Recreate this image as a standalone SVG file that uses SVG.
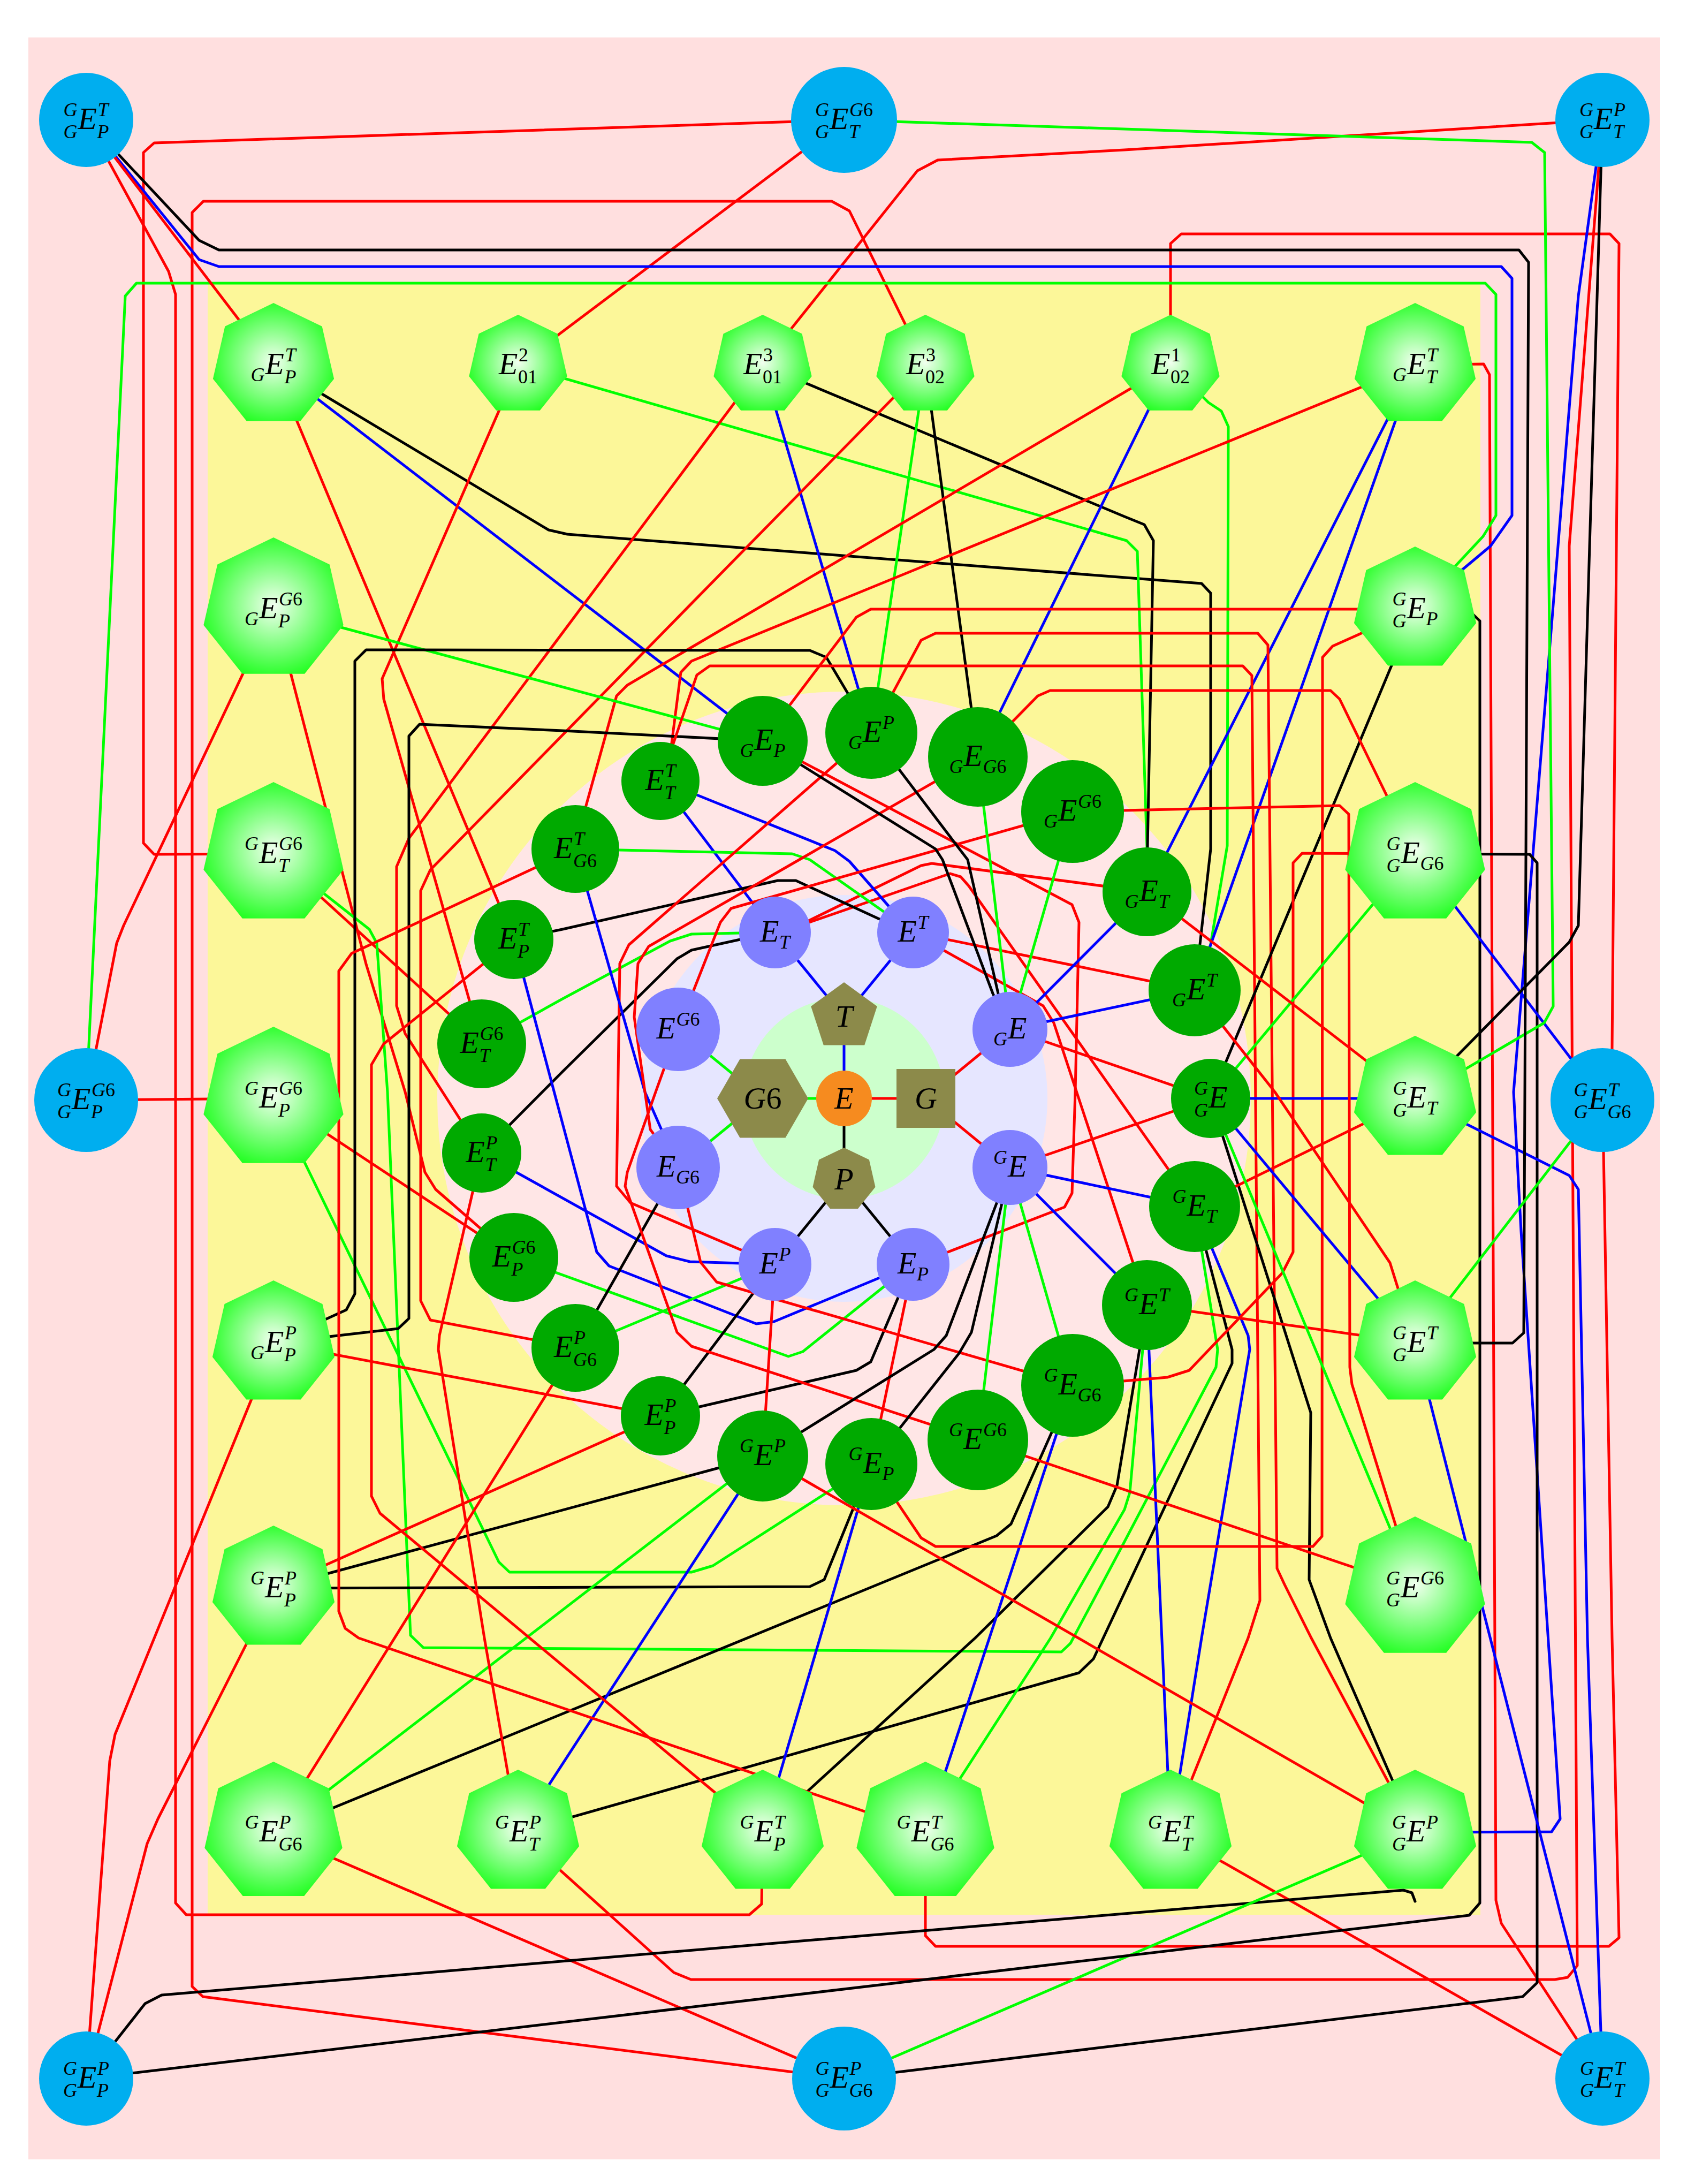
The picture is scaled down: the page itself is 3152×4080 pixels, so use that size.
<svg xmlns="http://www.w3.org/2000/svg" width="3152" height="4080" viewBox="0 0 3152 4080">
<defs>
<style>
.m{font-family:"Liberation Serif","DejaVu Serif",serif;font-style:italic;font-size:58px;fill:#000}
.s{font-family:"Liberation Serif","DejaVu Serif",serif;font-style:italic;font-size:36px;fill:#000}
.u{font-style:normal}
.e{text-anchor:end}
.c{text-anchor:middle}
.ln{fill:none;stroke-width:5;stroke-linejoin:round;stroke-linecap:round}
.r{stroke:#FF0000}.g{stroke:#00FF00}.b{stroke:#0000FF}.k{stroke:#000000}
.cy{fill:#00AEEF}.dg{fill:#00AA00}.lv{fill:#8080FF}.ol{fill:#8C8A4A}
</style>
<radialGradient id="hg" cx="0.5" cy="0.5" r="0.55"><stop offset="0" stop-color="#F2FFF0"/><stop offset="1" stop-color="#1EFF1E"/></radialGradient>
<polygon id="hep" points="0,-100 78.18,-62.35 97.49,22.25 43.39,90.1 -43.39,90.1 -97.49,22.25 -78.18,-62.35" fill="url(#hg)"/>
</defs>
<rect width="3152" height="4080" fill="#FFFFFF"/>
<rect x="53" y="70" width="3049" height="3964" fill="#FFDFDF"/>
<rect x="388" y="529" width="2378" height="3048" fill="#FCF799"/>
<circle cx="1577" cy="2052" r="760" fill="#FFE6E6"/>
<circle cx="1577" cy="2052" r="380" fill="#E6E6FF"/>
<circle cx="1577" cy="2052" r="188" fill="#CCFFCC"/>
<g id="connectors">
<line class="ln b" x1="1577" y1="2052" x2="1577" y2="1900"/>
<line class="ln r" x1="1577" y1="2052" x2="1730" y2="2052"/>
<line class="ln k" x1="1577" y1="2052" x2="1577" y2="2204"/>
<line class="ln g" x1="1577" y1="2052" x2="1425" y2="2052"/>
<line class="ln b" x1="1577" y1="1900" x2="1448" y2="1742"/>
<line class="ln b" x1="1577" y1="1900" x2="1706" y2="1742"/>
<line class="ln r" x1="1730" y1="2052" x2="1887" y2="1923"/>
<line class="ln r" x1="1730" y1="2052" x2="1887" y2="2181"/>
<line class="ln k" x1="1577" y1="2204" x2="1448" y2="2362"/>
<line class="ln k" x1="1577" y1="2204" x2="1706" y2="2362"/>
<line class="ln g" x1="1425" y1="2052" x2="1267" y2="1923"/>
<line class="ln g" x1="1425" y1="2052" x2="1267" y2="2181"/>
<line class="ln b" x1="1448" y1="1742" x2="1234" y2="1459"/>
<polyline class="ln k" points="1448,1742 1383,1755 1292,1775 1265,1791 1051,2002 900,2154"/>
<polyline class="ln g" points="1448,1742 1383,1743 1292,1745 1252,1758 1051,1866 900,1950"/>
<polyline class="ln r" points="1448,1742 1513,1719 1721,1617 1741,1613 2143,1666"/>
<polyline class="ln r" points="1448,1742 1515,1722 1775,1632 1795,1638 1810,1655 2232,2254"/>
<polyline class="ln b" points="1234,1459 1302,1485 1560,1589 1587,1609 1658,1690 1706,1742"/>
<polyline class="ln k" points="1706,1742 1641,1716 1487,1645 1453,1645 1051,1736 960,1755"/>
<polyline class="ln g" points="1075,1586 1158,1588 1480,1595 1513,1606 1651,1703 1706,1742"/>
<line class="ln r" x1="1706" y1="1742" x2="2232" y2="1850"/>
<polyline class="ln r" points="1706,1742 1768,1778 1949,1879 1969,1911 2143,2438"/>
<polyline class="ln b" points="1706,2362 1641,2388 1446,2469 1413,2473 1138,2365 1115,2339 979,1828 960,1755"/>
<polyline class="ln k" points="1706,2362 1678,2424 1627,2544 1600,2560 1234,2645"/>
<polyline class="ln g" points="1706,2362 1651,2404 1500,2525 1473,2534 960,2349"/>
<line class="ln r" x1="1706" y1="2362" x2="1628" y2="2735"/>
<polyline class="ln r" points="1706,2362 1771,2339 1989,2255 2003,2229 2009,2040 2016,1723 2003,1690 1425,1384"/>
<polyline class="ln b" points="1448,2362 1289,2357 1245,2346 900,2154"/>
<line class="ln k" x1="1448" y1="2362" x2="1234" y2="2645"/>
<line class="ln g" x1="1448" y1="2362" x2="1075" y2="2518"/>
<line class="ln r" x1="1448" y1="2362" x2="1425" y2="2720"/>
<polyline class="ln r" points="1448,2362 1178,2247 1152,2216 1158,1800 1175,1765 1628,1369"/>
<polyline class="ln b" points="1267,2181 1205,2040 1075,1586"/>
<line class="ln k" x1="1267" y1="2181" x2="1075" y2="2518"/>
<polyline class="ln r" points="1267,2181 1309,2358 1339,2395 2004,2588"/>
<polyline class="ln r" points="1827,1414 1212,1768 1192,1800 1185,1900 1215,2110 1267,2181"/>
<polyline class="ln r" points="1267,1923 1296,1850 1346,1723 1366,1697 2004,1516"/>
<polyline class="ln r" points="1267,1923 1225,2040 1172,2190 1168,2216 1265,2489 1292,2515 1827,2690"/>
<line class="ln b" x1="1887" y1="1923" x2="2232" y2="1850"/>
<line class="ln b" x1="1887" y1="1923" x2="2143" y2="1666"/>
<polyline class="ln k" points="1887,1923 1865,1856 1808,1606 1788,1580 1628,1369"/>
<polyline class="ln k" points="1887,1923 1855,1856 1761,1606 1748,1586 1425,1384"/>
<line class="ln g" x1="1887" y1="1923" x2="2004" y2="1516"/>
<line class="ln g" x1="1887" y1="1923" x2="1827" y2="1414"/>
<line class="ln r" x1="1887" y1="1923" x2="2262" y2="2052"/>
<line class="ln b" x1="1887" y1="2181" x2="2143" y2="2438"/>
<line class="ln b" x1="1887" y1="2181" x2="2232" y2="2254"/>
<polyline class="ln k" points="1887,2181 1862,2248 1768,2495 1745,2521 1425,2720"/>
<polyline class="ln k" points="1887,2181 1872,2248 1815,2489 1792,2528 1628,2735"/>
<line class="ln g" x1="1887" y1="2181" x2="1827" y2="2690"/>
<line class="ln g" x1="1887" y1="2181" x2="2004" y2="2588"/>
<line class="ln r" x1="1887" y1="2181" x2="2262" y2="2052"/>
<line class="ln r" x1="511" y1="682" x2="960" y2="1755"/>
<line class="ln b" x1="511" y1="682" x2="1425" y2="1384"/>
<polyline class="ln k" points="511,682 600,735 1025,990 1060,998 2245,1090 2262,1108 2262,1586 2242,1764 2232,1850"/>
<polyline class="ln r" points="968,682 932,768 714,1268 717,1306 900,1950"/>
<line class="ln r" x1="968" y1="682" x2="1577" y2="224"/>
<polyline class="ln g" points="968,682 2105,1010 2125,1030 2143,1583 2143,1666"/>
<line class="ln b" x1="1425" y1="682" x2="1628" y2="1369"/>
<polyline class="ln k" points="1425,682 2101,965 2138,980 2155,1010 2144,1583 2143,1666"/>
<polyline class="ln r" points="1425,682 764,1566 741,1619 741,1879 757,1931 900,2154"/>
<polyline class="ln r" points="1425,682 1480,612 1714,319 1752,299 2101,280 2994,224"/>
<line class="ln g" x1="1729" y1="682" x2="1628" y2="1369"/>
<line class="ln k" x1="1729" y1="682" x2="1827" y2="1414"/>
<polyline class="ln r" points="1729,682 804,1625 786,1664 786,2430 804,2466 1075,2518"/>
<polyline class="ln r" points="1729,682 1587,394 1554,376 380,376 359,397 359,3711 379,3730 1577,3883"/>
<line class="ln b" x1="2187" y1="682" x2="1827" y2="1414"/>
<polyline class="ln g" points="2187,682 2258,752 2282,768 2295,797 2293,1580 2262,1764 2232,1850"/>
<polyline class="ln r" points="2187,682 1172,1280 1152,1300 1095,1505 1075,1586"/>
<polyline class="ln r" points="2187,682 2187,455 2207,437 3008,437 3025,455 3012,1960 2994,2055"/>
<polyline class="ln r" points="2644,682 1292,1235 1272,1256 1255,1388 1234,1459"/>
<line class="ln b" x1="2644" y1="682" x2="2143" y2="1666"/>
<line class="ln b" x1="2644" y1="682" x2="2232" y2="1850"/>
<polyline class="ln r" points="2644,682 2772,680 2783,700 2795,3550 2805,3593 2994,3883"/>
<polyline class="ln r" points="511,1138 544,1261 684,1801 757,2040 794,2190 814,2222 960,2349"/>
<line class="ln g" x1="511" y1="1138" x2="1425" y2="1384"/>
<polyline class="ln r" points="511,1138 231,1729 218,1762 161,2055"/>
<polyline class="ln r" points="511,1595 288,1596 268,1575 268,285 288,267 1577,224"/>
<line class="ln r" x1="511" y1="1595" x2="900" y2="1950"/>
<polyline class="ln g" points="511,1595 690,1736 704,1762 724,2040 767,3055 791,3078 1983,3086 2000,3070 2101,2880 2272,2554 2275,2521 2232,2254"/>
<line class="ln r" x1="511" y1="2052" x2="161" y2="2055"/>
<line class="ln r" x1="511" y1="2052" x2="960" y2="2349"/>
<polyline class="ln g" points="511,2052 932,2918 952,2937 1292,2937 1332,2925 1628,2735"/>
<line class="ln r" x1="511" y1="2509" x2="1234" y2="2645"/>
<polyline class="ln k" points="511,2509 647,2447 663,2417 663,1235 684,1214 1513,1215 1544,1228 1628,1369"/>
<polyline class="ln k" points="511,2509 744,2482 764,2463 764,1375 784,1353 1051,1365 1425,1384"/>
<polyline class="ln r" points="511,2509 469,2616 215,3240 205,3290 161,3883"/>
<line class="ln r" x1="511" y1="2967" x2="1234" y2="2645"/>
<line class="ln k" x1="511" y1="2967" x2="1425" y2="2720"/>
<polyline class="ln k" points="511,2967 1513,2964 1540,2951 1628,2735"/>
<polyline class="ln r" points="511,2967 460,3072 295,3398 275,3444 161,3883"/>
<line class="ln r" x1="511" y1="3423" x2="1075" y2="2518"/>
<line class="ln g" x1="511" y1="3423" x2="1425" y2="2720"/>
<polyline class="ln k" points="511,3423 1862,2869 1889,2847 2004,2588"/>
<line class="ln r" x1="511" y1="3423" x2="1577" y2="3883"/>
<polyline class="ln r" points="968,3423 905,3060 819,2521 821,2495 900,2154"/>
<line class="ln b" x1="968" y1="3423" x2="1425" y2="2720"/>
<polyline class="ln k" points="968,3423 2016,3125 2043,3099 2302,2547 2302,2521 2232,2254"/>
<polyline class="ln r" points="968,3423 1259,3685 1291,3698 2905,3698 2929,3694 2947,3672 2932,1020 2994,224"/>
<polyline class="ln r" points="1425,3423 710,2827 694,2795 694,1989 717,1950 960,1755"/>
<line class="ln b" x1="1425" y1="3423" x2="1628" y2="2735"/>
<polyline class="ln k" points="1425,3423 1822,3060 2070,2815 2087,2775 2143,2438"/>
<polyline class="ln r" points="1425,3423 1423,3557 1400,3577 348,3577 328,3555 328,550 315,507 161,224"/>
<polyline class="ln r" points="1729,3423 670,3060 645,3042 633,3010 633,1814 657,1781 1075,1586"/>
<polyline class="ln g" points="1729,3423 1963,3060 2101,2820 2111,2788 2135,2521 2143,2438"/>
<line class="ln b" x1="1729" y1="3423" x2="2004" y2="2588"/>
<polyline class="ln r" points="1729,3423 1729,3616 1748,3636 3006,3636 3025,3620 3012,3060 2996,2150 2994,2055"/>
<polyline class="ln r" points="2187,3423 2332,3060 2354,2990 2339,1262 2322,1244 1326,1244 1302,1261 1234,1459"/>
<line class="ln b" x1="2187" y1="3423" x2="2143" y2="2438"/>
<polyline class="ln b" points="2187,3423 2245,3060 2335,2521 2332,2495 2232,2254"/>
<line class="ln r" x1="2187" y1="3423" x2="2994" y2="3883"/>
<line class="ln r" x1="2644" y1="3423" x2="1425" y2="2720"/>
<polyline class="ln r" points="2644,3423 2450,3060 2400,2960 2386,2930 2369,1205 2350,1183 1748,1183 1721,1196 1628,1369"/>
<polyline class="ln k" points="2644,3423 2486,3060 2446,2951 2449,2639 2262,2052"/>
<polyline class="ln k" points="161,3883 271,3743 302,3727 2622,3531 2638,3536 2644,3552"/>
<line class="ln g" x1="2644" y1="3423" x2="1577" y2="3883"/>
<polyline class="ln b" points="2644,3423 2899,3422 2915,3398 2842,2300 2828,2040 2949,553 2994,224"/>
<line class="ln k" x1="2644" y1="1138" x2="2262" y2="2052"/>
<polyline class="ln r" points="2644,1138 1627,1138 1600,1153 1425,1384"/>
<polyline class="ln r" points="2644,1138 2490,1207 2471,1228 2470,2870 2453,2889 1748,2889 1721,2873 1628,2735"/>
<polyline class="ln b" points="2644,1138 2785,1020 2825,963 2825,520 2805,498 409,498 372,485 161,224"/>
<polyline class="ln g" points="2644,1138 2771,1002 2795,963 2795,550 2775,529 255,529 234,553 161,2055"/>
<polyline class="ln k" points="2644,1138 2745,1141 2765,1160 2765,3555 2745,3578 161,3883"/>
<polyline class="ln r" points="2644,1595 2503,1306 2486,1290 1962,1290 1939,1300 1827,1414"/>
<polyline class="ln r" points="2644,1595 2433,1594 2416,1612 2416,2339 2396,2378 2222,2560 2181,2573 2004,2588"/>
<line class="ln g" x1="2644" y1="1595" x2="2262" y2="2052"/>
<polyline class="ln k" points="2644,1595 2858,1596 2872,1612 2872,3704 2845,3730 1577,3883"/>
<line class="ln b" x1="2644" y1="1595" x2="2994" y2="2055"/>
<line class="ln r" x1="2644" y1="2052" x2="2143" y2="1666"/>
<line class="ln r" x1="2644" y1="2052" x2="2232" y2="2254"/>
<line class="ln b" x1="2644" y1="2052" x2="2262" y2="2052"/>
<polyline class="ln g" points="2644,2052 2885,1911 2902,1880 2886,285 2862,266 1577,224"/>
<polyline class="ln k" points="2644,2052 2932,1760 2949,1729 2970,1020 2994,224"/>
<polyline class="ln b" points="2644,2052 2932,2196 2949,2222 2966,3060 2994,3883"/>
<line class="ln r" x1="2644" y1="2509" x2="2143" y2="2438"/>
<line class="ln b" x1="2644" y1="2509" x2="2262" y2="2052"/>
<polyline class="ln r" points="2644,2509 2597,2359 2382,2040 2232,1850"/>
<polyline class="ln k" points="2644,2509 2826,2509 2847,2490 2856,490 2838,467 409,467 372,449 161,224"/>
<line class="ln b" x1="2644" y1="2509" x2="2994" y2="3883"/>
<line class="ln g" x1="2644" y1="2509" x2="2994" y2="2055"/>
<polyline class="ln r" points="2644,2967 2526,2586 2522,2554 2520,1521 2503,1505 2004,1516"/>
<line class="ln r" x1="2644" y1="2967" x2="1827" y2="2690"/>
<line class="ln g" x1="2644" y1="2967" x2="2262" y2="2052"/>
<line class="ln r" x1="161" y1="224" x2="511" y2="682"/>
</g>
<g id="nodes">
<g id="C1"><circle class="cy" cx="161" cy="224" r="88"/><g transform="translate(161,224)"><text class="m" x="-15.5" y="17">E</text><text class="s e" x="-16.5" y="-7">G</text><text class="s e" x="-16.5" y="34">G</text><text class="s" x="21.5" y="-7">T</text><text class="s" x="20.5" y="34">P</text></g></g>
<g id="C2"><circle class="cy" cx="1577" cy="224" r="99"/><g transform="translate(1577,224)"><text class="m" x="-27" y="17">E</text><text class="s e" x="-28" y="-7">G</text><text class="s e" x="-28" y="34">G</text><text class="s" x="10" y="-7">G<tspan class="u">6</tspan></text><text class="s" x="9" y="34">T</text></g></g>
<g id="C3"><circle class="cy" cx="2994" cy="224" r="88"/><g transform="translate(2994,224)"><text class="m" x="-16" y="17">E</text><text class="s e" x="-17" y="-7">G</text><text class="s e" x="-17" y="34">G</text><text class="s" x="21" y="-7">P</text><text class="s" x="20" y="34">T</text></g></g>
<g id="C4"><circle class="cy" cx="161" cy="2055" r="97"/><g transform="translate(161,2055)"><text class="m" x="-27" y="17">E</text><text class="s e" x="-28" y="-7">G</text><text class="s e" x="-28" y="34">G</text><text class="s" x="10" y="-7">G<tspan class="u">6</tspan></text><text class="s" x="9" y="34">P</text></g></g>
<g id="C5"><circle class="cy" cx="2994" cy="2055" r="97"/><g transform="translate(2994,2055)"><text class="m" x="-26.5" y="17">E</text><text class="s e" x="-27.5" y="-7">G</text><text class="s e" x="-27.5" y="34">G</text><text class="s" x="10.5" y="-7">T</text><text class="s" x="9.5" y="34">G<tspan class="u">6</tspan></text></g></g>
<g id="C6"><circle class="cy" cx="161" cy="3883" r="88"/><g transform="translate(161,3883)"><text class="m" x="-16" y="17">E</text><text class="s e" x="-17" y="-7">G</text><text class="s e" x="-17" y="34">G</text><text class="s" x="21" y="-7">P</text><text class="s" x="20" y="34">P</text></g></g>
<g id="C7"><circle class="cy" cx="1577" cy="3883" r="97"/><g transform="translate(1577,3883)"><text class="m" x="-26.5" y="17">E</text><text class="s e" x="-27.5" y="-7">G</text><text class="s e" x="-27.5" y="34">G</text><text class="s" x="10.5" y="-7">P</text><text class="s" x="9.5" y="34">G<tspan class="u">6</tspan></text></g></g>
<g id="C8"><circle class="cy" cx="2994" cy="3883" r="88"/><g transform="translate(2994,3883)"><text class="m" x="-15" y="17">E</text><text class="s e" x="-16" y="-7">G</text><text class="s e" x="-16" y="34">G</text><text class="s" x="22" y="-7">T</text><text class="s" x="21" y="34">T</text></g></g>

<g id="Ha"><use href="#hep" transform="translate(511,682) scale(1.16)"/><g transform="translate(511,682)"><text class="m" x="-15.5" y="17">E</text><text class="s e" x="-16.5" y="30">G</text><text class="s" x="21.5" y="-7">T</text><text class="s" x="20.5" y="34">P</text></g></g>
<g id="Hb"><use href="#hep" transform="translate(968,682) scale(0.94)"/><g transform="translate(968,682)"><text class="m" x="-36" y="17">E</text><text class="s u" x="1" y="-7">2</text><text class="s u" x="0" y="34">01</text></g></g>
<g id="Hc"><use href="#hep" transform="translate(1425,682) scale(0.94)"/><g transform="translate(1425,682)"><text class="m" x="-36" y="17">E</text><text class="s u" x="1" y="-7">3</text><text class="s u" x="0" y="34">01</text></g></g>
<g id="Hd"><use href="#hep" transform="translate(1729,682) scale(0.94)"/><g transform="translate(1729,682)"><text class="m" x="-36" y="17">E</text><text class="s u" x="1" y="-7">3</text><text class="s u" x="0" y="34">02</text></g></g>
<g id="He"><use href="#hep" transform="translate(2187,682) scale(0.94)"/><g transform="translate(2187,682)"><text class="m" x="-36" y="17">E</text><text class="s u" x="1" y="-7">1</text><text class="s u" x="0" y="34">02</text></g></g>
<g id="Hf"><use href="#hep" transform="translate(2644,682) scale(1.16)"/><g transform="translate(2644,682)"><text class="m" x="-15" y="17">E</text><text class="s e" x="-16" y="30">G</text><text class="s" x="22" y="-7">T</text><text class="s" x="21" y="34">T</text></g></g>
<g id="Hg"><use href="#hep" transform="translate(511,1138) scale(1.34)"/><g transform="translate(511,1138)"><text class="m" x="-27" y="17">E</text><text class="s e" x="-28" y="30">G</text><text class="s" x="10" y="-7">G<tspan class="u">6</tspan></text><text class="s" x="9" y="34">P</text></g></g>
<g id="Hh"><use href="#hep" transform="translate(511,1595) scale(1.34)"/><g transform="translate(511,1595)"><text class="m" x="-27" y="17">E</text><text class="s e" x="-28" y="-7">G</text><text class="s" x="10" y="-7">G<tspan class="u">6</tspan></text><text class="s" x="9" y="34">T</text></g></g>
<g id="Hi"><use href="#hep" transform="translate(511,2052) scale(1.34)"/><g transform="translate(511,2052)"><text class="m" x="-27" y="17">E</text><text class="s e" x="-28" y="-7">G</text><text class="s" x="10" y="-7">G<tspan class="u">6</tspan></text><text class="s" x="9" y="34">P</text></g></g>
<g id="Hj"><use href="#hep" transform="translate(511,2509) scale(1.17)"/><g transform="translate(511,2509)"><text class="m" x="-16" y="17">E</text><text class="s e" x="-17" y="30">G</text><text class="s" x="21" y="-7">P</text><text class="s" x="20" y="34">P</text></g></g>
<g id="Hk"><use href="#hep" transform="translate(511,2967) scale(1.17)"/><g transform="translate(511,2967)"><text class="m" x="-16" y="17">E</text><text class="s e" x="-17" y="-7">G</text><text class="s" x="21" y="-7">P</text><text class="s" x="20" y="34">P</text></g></g>
<g id="Hl"><use href="#hep" transform="translate(511,3423) scale(1.32)"/><g transform="translate(511,3423)"><text class="m" x="-26.5" y="17">E</text><text class="s e" x="-27.5" y="-7">G</text><text class="s" x="10.5" y="-7">P</text><text class="s" x="9.5" y="34">G<tspan class="u">6</tspan></text></g></g>
<g id="Hm"><use href="#hep" transform="translate(968,3423) scale(1.17)"/><g transform="translate(968,3423)"><text class="m" x="-16" y="17">E</text><text class="s e" x="-17" y="-7">G</text><text class="s" x="21" y="-7">P</text><text class="s" x="20" y="34">T</text></g></g>
<g id="Hn"><use href="#hep" transform="translate(1425,3423) scale(1.17)"/><g transform="translate(1425,3423)"><text class="m" x="-15.5" y="17">E</text><text class="s e" x="-16.5" y="-7">G</text><text class="s" x="21.5" y="-7">T</text><text class="s" x="20.5" y="34">P</text></g></g>
<g id="Ho"><use href="#hep" transform="translate(1729,3423) scale(1.32)"/><g transform="translate(1729,3423)"><text class="m" x="-26.5" y="17">E</text><text class="s e" x="-27.5" y="-7">G</text><text class="s" x="10.5" y="-7">T</text><text class="s" x="9.5" y="34">G<tspan class="u">6</tspan></text></g></g>
<g id="Hp"><use href="#hep" transform="translate(2187,3423) scale(1.17)"/><g transform="translate(2187,3423)"><text class="m" x="-15" y="17">E</text><text class="s e" x="-16" y="-7">G</text><text class="s" x="22" y="-7">T</text><text class="s" x="21" y="34">T</text></g></g>
<g id="Hq"><use href="#hep" transform="translate(2644,3423) scale(1.17)"/><g transform="translate(2644,3423)"><text class="m" x="-16" y="17">E</text><text class="s e" x="-17" y="-7">G</text><text class="s e" x="-17" y="34">G</text><text class="s" x="21" y="-7">P</text></g></g>
<g id="Hr"><use href="#hep" transform="translate(2644,1138) scale(1.17)"/><g transform="translate(2644,1138)"><text class="m" x="-15.5" y="17">E</text><text class="s e" x="-16.5" y="-7">G</text><text class="s e" x="-16.5" y="34">G</text><text class="s" x="20.5" y="30">P</text></g></g>
<g id="Hs"><use href="#hep" transform="translate(2644,1595) scale(1.34)"/><g transform="translate(2644,1595)"><text class="m" x="-26.5" y="17">E</text><text class="s e" x="-27.5" y="-7">G</text><text class="s e" x="-27.5" y="34">G</text><text class="s" x="9.5" y="30">G<tspan class="u">6</tspan></text></g></g>
<g id="Ht"><use href="#hep" transform="translate(2644,2052) scale(1.17)"/><g transform="translate(2644,2052)"><text class="m" x="-14.5" y="17">E</text><text class="s e" x="-15.5" y="-7">G</text><text class="s e" x="-15.5" y="34">G</text><text class="s" x="21.5" y="30">T</text></g></g>
<g id="Hu"><use href="#hep" transform="translate(2644,2509) scale(1.17)"/><g transform="translate(2644,2509)"><text class="m" x="-15" y="17">E</text><text class="s e" x="-16" y="-7">G</text><text class="s e" x="-16" y="34">G</text><text class="s" x="22" y="-7">T</text></g></g>
<g id="Hv"><use href="#hep" transform="translate(2644,2967) scale(1.34)"/><g transform="translate(2644,2967)"><text class="m" x="-27" y="17">E</text><text class="s e" x="-28" y="-7">G</text><text class="s e" x="-28" y="34">G</text><text class="s" x="10" y="-7">G<tspan class="u">6</tspan></text></g></g>

<g id="D0"><circle class="dg" cx="2262" cy="2052" r="74"/><g transform="translate(2262,2052)"><text class="m" x="-4" y="17">E</text><text class="s e" x="-5" y="-7">G</text><text class="s e" x="-5" y="34">G</text></g></g>
<g id="D1"><circle class="dg" cx="2232" cy="1850" r="86"/><g transform="translate(2232,1850)"><text class="m" x="-15" y="17">E</text><text class="s e" x="-16" y="30">G</text><text class="s" x="22" y="-7">T</text></g></g>
<g id="D2"><circle class="dg" cx="2143" cy="1666" r="83"/><g transform="translate(2143,1666)"><text class="m" x="-14.5" y="17">E</text><text class="s e" x="-15.5" y="30">G</text><text class="s" x="21.5" y="30">T</text></g></g>
<g id="D3"><circle class="dg" cx="2004" cy="1516" r="96"/><g transform="translate(2004,1516)"><text class="m" x="-27" y="17">E</text><text class="s e" x="-28" y="30">G</text><text class="s" x="10" y="-7">G<tspan class="u">6</tspan></text></g></g>
<g id="D4"><circle class="dg" cx="1827" cy="1414" r="93"/><g transform="translate(1827,1414)"><text class="m" x="-26.5" y="17">E</text><text class="s e" x="-27.5" y="30">G</text><text class="s" x="9.5" y="30">G<tspan class="u">6</tspan></text></g></g>
<g id="D5"><circle class="dg" cx="1628" cy="1369" r="86"/><g transform="translate(1628,1369)"><text class="m" x="-16" y="17">E</text><text class="s e" x="-17" y="30">G</text><text class="s" x="21" y="-7">P</text></g></g>
<g id="D6"><circle class="dg" cx="1425" cy="1384" r="84"/><g transform="translate(1425,1384)"><text class="m" x="-15.5" y="17">E</text><text class="s e" x="-16.5" y="30">G</text><text class="s" x="20.5" y="30">P</text></g></g>
<g id="D7"><circle class="dg" cx="1234" cy="1459" r="73"/><g transform="translate(1234,1459)"><text class="m" x="-28.5" y="17">E</text><text class="s" x="8.5" y="-7">T</text><text class="s" x="7.5" y="34">T</text></g></g>
<g id="D8"><circle class="dg" cx="1075" cy="1586" r="82"/><g transform="translate(1075,1586)"><text class="m" x="-40" y="17">E</text><text class="s" x="-3" y="-7">T</text><text class="s" x="-4" y="34">G<tspan class="u">6</tspan></text></g></g>
<g id="D9"><circle class="dg" cx="960" cy="1755" r="74"/><g transform="translate(960,1755)"><text class="m" x="-29" y="17">E</text><text class="s" x="8" y="-7">T</text><text class="s" x="7" y="34">P</text></g></g>
<g id="D10"><circle class="dg" cx="900" cy="1950" r="83"/><g transform="translate(900,1950)"><text class="m" x="-40.5" y="17">E</text><text class="s" x="-3.5" y="-7">G<tspan class="u">6</tspan></text><text class="s" x="-4.5" y="34">T</text></g></g>
<g id="D11"><circle class="dg" cx="900" cy="2154" r="74"/><g transform="translate(900,2154)"><text class="m" x="-29.5" y="17">E</text><text class="s" x="7.5" y="-7">P</text><text class="s" x="6.5" y="34">T</text></g></g>
<g id="D12"><circle class="dg" cx="960" cy="2349" r="83"/><g transform="translate(960,2349)"><text class="m" x="-40.5" y="17">E</text><text class="s" x="-3.5" y="-7">G<tspan class="u">6</tspan></text><text class="s" x="-4.5" y="34">P</text></g></g>
<g id="D13"><circle class="dg" cx="1075" cy="2518" r="82"/><g transform="translate(1075,2518)"><text class="m" x="-40" y="17">E</text><text class="s" x="-3" y="-7">P</text><text class="s" x="-4" y="34">G<tspan class="u">6</tspan></text></g></g>
<g id="D14"><circle class="dg" cx="1234" cy="2645" r="74"/><g transform="translate(1234,2645)"><text class="m" x="-29.5" y="17">E</text><text class="s" x="7.5" y="-7">P</text><text class="s" x="6.5" y="34">P</text></g></g>
<g id="D15"><circle class="dg" cx="1425" cy="2720" r="85"/><g transform="translate(1425,2720)"><text class="m" x="-16" y="17">E</text><text class="s e" x="-17" y="-7">G</text><text class="s" x="21" y="-7">P</text></g></g>
<g id="D16"><circle class="dg" cx="1628" cy="2735" r="86"/><g transform="translate(1628,2735)"><text class="m" x="-15.5" y="17">E</text><text class="s e" x="-16.5" y="-7">G</text><text class="s" x="20.5" y="30">P</text></g></g>
<g id="D17"><circle class="dg" cx="1827" cy="2690" r="94"/><g transform="translate(1827,2690)"><text class="m" x="-27" y="17">E</text><text class="s e" x="-28" y="-7">G</text><text class="s" x="10" y="-7">G<tspan class="u">6</tspan></text></g></g>
<g id="D18"><circle class="dg" cx="2004" cy="2588" r="96"/><g transform="translate(2004,2588)"><text class="m" x="-26.5" y="17">E</text><text class="s e" x="-27.5" y="-7">G</text><text class="s" x="9.5" y="30">G<tspan class="u">6</tspan></text></g></g>
<g id="D19"><circle class="dg" cx="2143" cy="2438" r="84"/><g transform="translate(2143,2438)"><text class="m" x="-15" y="17">E</text><text class="s e" x="-16" y="-7">G</text><text class="s" x="22" y="-7">T</text></g></g>
<g id="D20"><circle class="dg" cx="2232" cy="2254" r="85"/><g transform="translate(2232,2254)"><text class="m" x="-14.5" y="17">E</text><text class="s e" x="-15.5" y="-7">G</text><text class="s" x="21.5" y="30">T</text></g></g>

<g id="L_ET"><circle class="lv" cx="1448" cy="1742" r="67"/><g transform="translate(1448,1742)"><text class="m" x="-28" y="17">E</text><text class="s" x="8" y="30">T</text></g></g>
<g id="L_EsupT"><circle class="lv" cx="1706" cy="1742" r="67"/><g transform="translate(1706,1742)"><text class="m" x="-28.5" y="17">E</text><text class="s" x="8.5" y="-7">T</text></g></g>
<g id="L_GsubE"><circle class="lv" cx="1887" cy="1923" r="70"/><g transform="translate(1887,1923)"><text class="m" x="-4" y="17">E</text><text class="s e" x="-5" y="30">G</text></g></g>
<g id="L_GsupE"><circle class="lv" cx="1887" cy="2181" r="70"/><g transform="translate(1887,2181)"><text class="m" x="-4" y="17">E</text><text class="s e" x="-5" y="-7">G</text></g></g>
<g id="L_EP"><circle class="lv" cx="1706" cy="2362" r="68"/><g transform="translate(1706,2362)"><text class="m" x="-29" y="17">E</text><text class="s" x="7" y="30">P</text></g></g>
<g id="L_EsupP"><circle class="lv" cx="1448" cy="2362" r="68"/><g transform="translate(1448,2362)"><text class="m" x="-29.5" y="17">E</text><text class="s" x="7.5" y="-7">P</text></g></g>
<g id="L_EG6"><circle class="lv" cx="1267" cy="2181" r="78"/><g transform="translate(1267,2181)"><text class="m" x="-40" y="17">E</text><text class="s" x="-4" y="30">G<tspan class="u">6</tspan></text></g></g>
<g id="L_EsupG6"><circle class="lv" cx="1267" cy="1923" r="78"/><g transform="translate(1267,1923)"><text class="m" x="-40.5" y="17">E</text><text class="s" x="-3.5" y="-7">G<tspan class="u">6</tspan></text></g></g>

<g id="T"><polygon class="ol" points="1577,1835 1638.8,1879.9 1615.2,1952.6 1538.8,1952.6 1515.2,1879.9"/><text class="m c" x="1577" y="1918">T</text></g>
<g id="P"><polygon class="ol" points="1577,2144 1623.9,2166.6 1635.5,2217.4 1603,2258.1 1551,2258.1 1518.5,2217.4 1530.1,2166.6"/><text class="m c" x="1577" y="2222">P</text></g>
<g id="G6"><polygon class="ol" points="1340,2052 1382.5,1978.4 1467.5,1978.4 1510,2052 1467.5,2125.6 1382.5,2125.6"/><text class="m c" x="1425" y="2071">G<tspan class="u">6</tspan></text></g>
<g id="G"><rect class="ol" x="1675" y="1997" width="110" height="110"/><text class="m c" x="1730" y="2071">G</text></g>
<g id="E"><circle cx="1577" cy="2052" r="52" fill="#F68B1F"/><text class="m c" x="1577" y="2071">E</text></g>
</g>
</svg>
